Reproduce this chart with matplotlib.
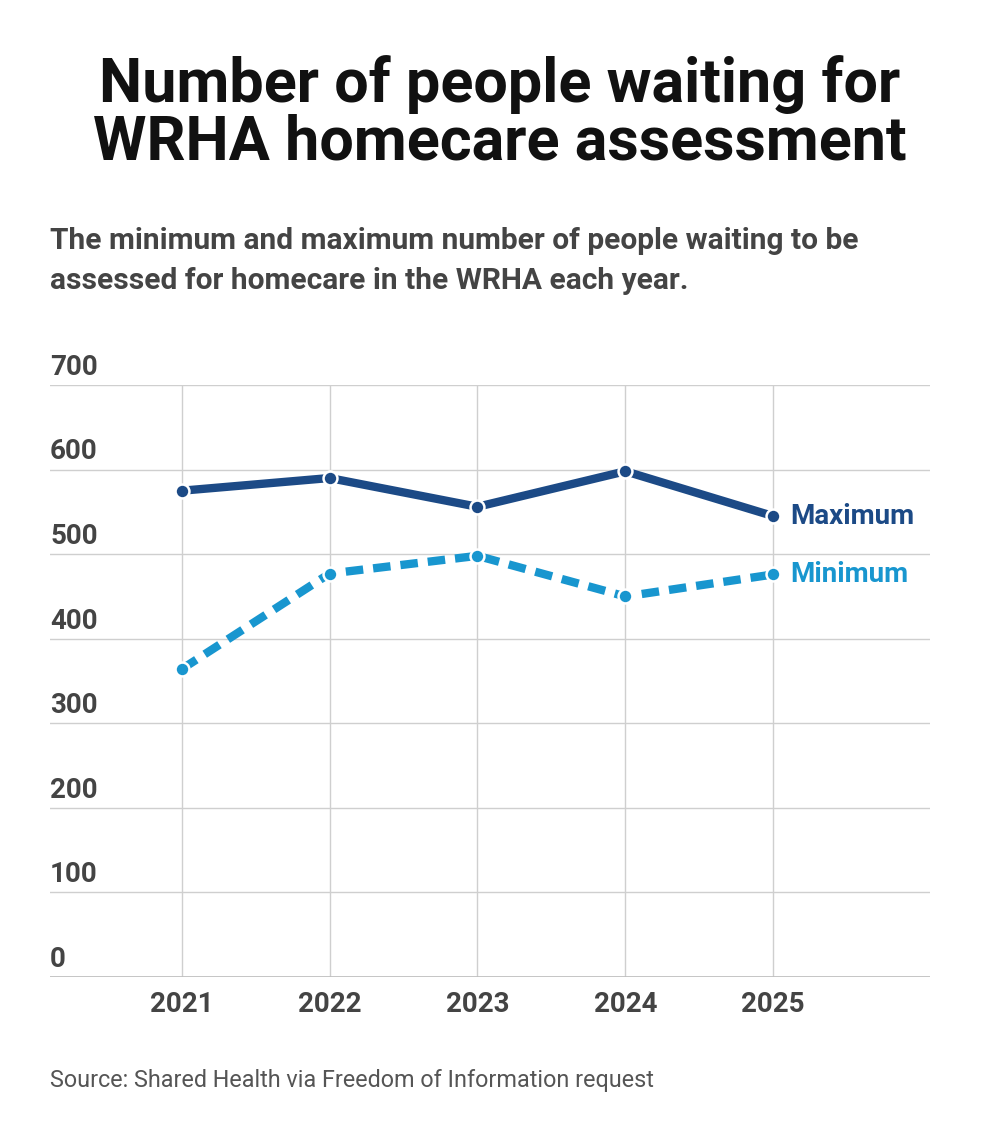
import matplotlib
matplotlib.use("Agg")
import matplotlib.pyplot as plt
from matplotlib import transforms

plt.rcParams['font.family'] = ['Roboto', 'DejaVu Sans']

# データ
years = [2021, 2022, 2023, 2024, 2025]
maximum = [575, 590, 556, 598, 545]
minimum = [364, 477, 498, 450, 476]
yticks = [0, 100, 200, 300, 400, 500, 600, 700]

max_color = "#1c4a86"
min_color = "#1896cf"

W, H = 1000, 1143
fig = plt.figure(figsize=(W / 100, H / 100), dpi=100)
fig.patch.set_facecolor("white")

# 軸の位置（ピクセルから換算）
ax = fig.add_axes([50 / W, 1 - 977 / H, 880 / W, (977 - 385) / H])
ax.set_xlim(2020.11, 2026.06)
ax.set_ylim(0, 700)

for t in yticks:
    ax.axhline(t, color="#cfcfcf", lw=1.0, zorder=1)
for yr in years:
    ax.axvline(yr, color="#cfcfcf", lw=1.0, zorder=1)
ax.axhline(0, color="#bdbdbd", lw=1.2, zorder=1)

for s in ax.spines.values():
    s.set_visible(False)
ax.set_xticks([])
ax.set_yticks([])

# 最大値
ax.plot(years, maximum, color=max_color, lw=6, solid_capstyle="butt", zorder=3)
ax.plot(years, maximum, "o", color=max_color, ms=10, mec="white", mew=1.8, zorder=4)

# 最小値
ax.plot(years, minimum, color=min_color, lw=6, dashes=(2.1, 1.2), zorder=3)
ax.plot(years, minimum, "o", color=min_color, ms=10, mec="white", mew=1.8, zorder=4)

# 系列ラベル
ax.annotate("Maximum", (years[-1], maximum[-1]), xytext=(12, 0), textcoords="offset points",
            color=max_color, fontsize=20, fontweight="bold", va="center", ha="left")
ax.annotate("Minimum", (years[-1], minimum[-1]), xytext=(12, 0), textcoords="offset points",
            color=min_color, fontsize=20, fontweight="bold", va="center", ha="left")

# y軸目盛（グリッド線の上に左寄せ）
trans = transforms.blended_transform_factory(ax.transAxes, ax.transData)
for t in yticks:
    ax.annotate(str(t), (0, t), xycoords=trans, xytext=(0, 3), textcoords="offset points",
                ha="left", va="bottom", fontsize=20, fontweight="bold", color="#444444")

# x軸目盛
for yr in years:
    ax.annotate(str(yr), (yr, 0), xytext=(0, -10), textcoords="offset points",
                ha="center", va="top", fontsize=20, fontweight="bold", color="#444444")

# タイトル
fig.text(0.5, 1 - 85 / H, "Number of people waiting for", ha="center", va="center",
         fontsize=44, fontweight="bold", color="#111111")
fig.text(0.5, 1 - 142 / H, "WRHA homecare assessment", ha="center", va="center",
         fontsize=44, fontweight="bold", color="#111111")

# サブタイトル
fig.text(50 / W, 1 - 241 / H, "The minimum and maximum number of people waiting to be",
         ha="left", va="center", fontsize=21.5, fontweight="bold", color="#444444")
fig.text(50 / W, 1 - 281 / H, "assessed for homecare in the WRHA each year.",
         ha="left", va="center", fontsize=21.5, fontweight="bold", color="#444444")

# 出典
fig.text(50 / W, 1 - 1080 / H, "Source: Shared Health via Freedom of Information request",
         ha="left", va="center", fontsize=16.8, color="#555555")

fig.savefig("out.png", dpi=100, facecolor="white")
